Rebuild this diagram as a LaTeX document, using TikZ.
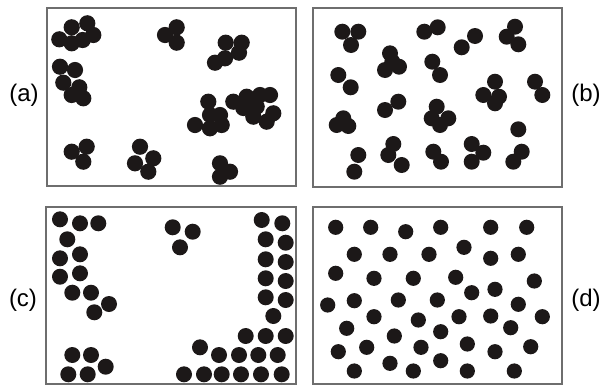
\documentclass[tikz,border=0pt]{standalone}
\usepackage{fontspec}
\setmainfont{Liberation Sans}
\definecolor{dotc}{HTML}{1C1818}
\definecolor{framec}{HTML}{6E6E6E}
\begin{document}
\begin{tikzpicture}[x=1pt,y=-1pt,
  panel/.style={draw=framec,line width=2pt},
  lab/.style={font=\fontsize{24}{27}\selectfont,inner sep=0pt},
  dotA/.style={fill=dotc},
]
\useasboundingbox (0,0) rectangle (604,386);
% frames
\draw[panel] (47,8) rectangle (296,186);
\draw[panel] (313,8) rectangle (562,187);
\draw[panel] (46,207) rectangle (296,384);
\draw[panel] (313,207) rectangle (562,384);
% labels
\node[lab] (la) at (24,95) {(a)};
\node[lab] (lb) at (586,95) {(b)};
\node[lab] (lc) at (23,300) {(c)};
\node[lab] (ld) at (586,300) {(d)};
% panel (a): clusters
\foreach \x/\y in {59.3/39.3,71.7/27.3,87.3/23.3,93.3/35,82.7/40,71.7/43.3,
  60/66.7,75/70,63.3/82.7,79.3/87.3,71.7/95,83.3/98.3,
  165/35,176.7/27.3,176.7/42.7,
  225.7/42.7,241.7/42.7,239/52.7,225/58.3,215/62.7,
  208.3/101.7,210/115,220/115,195/125,210/128.3,221.7/125,
  233.3/101.7,246.7/96.7,260/95,270/95,273.3/113.3,253.3/116.7,266.7/121.7,256.7/106.7,243.3/108,
  71.7/151.7,86.7/146.7,83.3/161.7,
  140/146.7,135/163.3,153.3/158.3,148.3/171.7,
  220/163.3,230/171.7,220/176.7}
  \fill[dotA] (\x,\y) circle[radius=8.1];
% panel (b)
\foreach \x/\y in {342.3/31.7,358.3/31.7,351/45,
  424.3/31.7,437.7/27.3,
  461.7/47.3,475/36,
  506.7/36.7,515/26.7,518.3/44.3,
  390/53.3,385/70,399/66.7,392.3/61.7,
  432.3/61.7,440/75,
  338.3/75,350.7/87.3,
  483.3/95,495/81.7,499/96.7,495/103.3,
  535/81.7,542.3/95,
  385/110,398.3/101.7,
  336.7/125,343.3/118.3,348.3/126,
  436.7/106.7,431.7/118.3,448.3/118.3,440/125,
  518.3/129.3,
  358.3/155,354.3/171.7,
  393.3/144,388.3/155,401.7/165,
  433.3/151.7,441/161.7,
  471.7/144,483.3/152.7,471.7/161.7,
  521.7/151.7,513.3/161.7}
  \fill[dotA] (\x,\y) circle[radius=8];
% panel (c)
\foreach \x/\y in {60/219.3,80/223.3,98.3/223.3,67.3/239.3,60/258.3,80/254.3,
  60/276.7,80/273.3,72.3/292.7,91/292.7,109/304,94.3/312.3,
  72.3/355,91/355,105.7/366.7,68.3/374.3,87.7/374.3,
  172.7/227.3,192.7/231.7,180/247.3,
  261.7/220,282.3/223.3,265.7/239.3,285.7/242.7,265.7/259.3,285.7/262,
  265.7/278.3,285.7/281,265.7/297.3,285.7/300,273.3/316,
  245.7/336,265.7/336,285.7/336,200/347.3,
  219/355,239/355,258.3/355,277.7/355,
  184/374.3,204/374.3,221.7/374.3,241/374.3,261/374.3,281.7/374.3}
  \fill[dotA] (\x,\y) circle[radius=8];
% panel (d)
\foreach \x/\y in {335.7/227.3,370.7/227.3,405.7/231.7,440.7/227.3,490.7/227.3,526.7/227.3,
  354.3/254.3,390/254.3,429/254.3,464/247.3,490.7/258.3,518.3/254.3,
  335.7/273.3,374/278.3,413.3/278.3,455.7/277.3,534.3/281,
  327.7/305,354.3/300.7,398.3/300,437.3/300,471.7/292.7,495/289.3,518.3/304.3,
  374/316.7,418.3/320,459/316.7,490.7/316,542.3/316.7,510.7/327.7,
  346.7/328.3,394.3/336,440.7/331.7,
  338.3/351.7,366.7/347.3,421/347.3,467.3/344,495/351.7,530.7/346.7,
  354.3/371,390/363.3,413.3/371,440.7/360.7,467.3/371,514.3/371}
  \fill[dotA] (\x,\y) circle[radius=7.6];
\end{tikzpicture}
\end{document}
